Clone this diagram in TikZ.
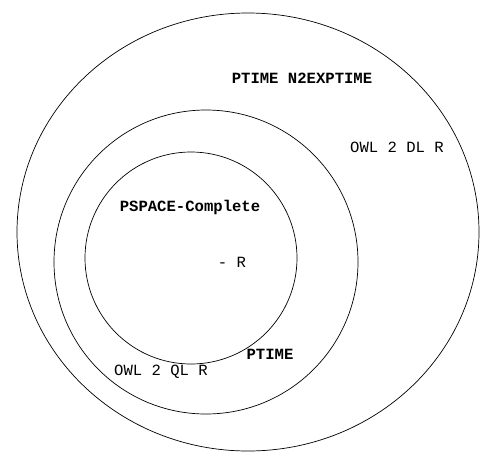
\documentclass[tikz,border=0pt]{standalone}
\usepackage{fontspec}
\setmonofont{Liberation Mono}
\begin{document}
\begin{tikzpicture}[x=1pt,y=-1pt]
\tikzstyle{every node}+=[inner sep=0pt, font=\ttfamily\fontsize{15.6}{18}\selectfont]
\tikzstyle{hard}=[font=\ttfamily\bfseries\fontsize{15.6}{18}\selectfont]
\tikzstyle{class}=[black, line width=0.7pt]
\useasboundingbox (0,0) rectangle (492,461);
\draw [class] (248,232) ellipse (231 and 219);
\draw [class] (206,262) circle (152);
\draw [class] (191,258) circle (106);
\node [hard] (exptime) at (302,78) {PTIME N2EXPTIME};
\node (dl) at (397,147) {OWL 2 DL R};
\node [hard] (pspace) at (190,207) {PSPACE-Complete};
\node (rl) at (232,262) {- R};
\node [hard] (ptime) at (270,354) {PTIME};
\node (ql) at (161,372) {OWL 2 QL R};
\end{tikzpicture}
\end{document}
